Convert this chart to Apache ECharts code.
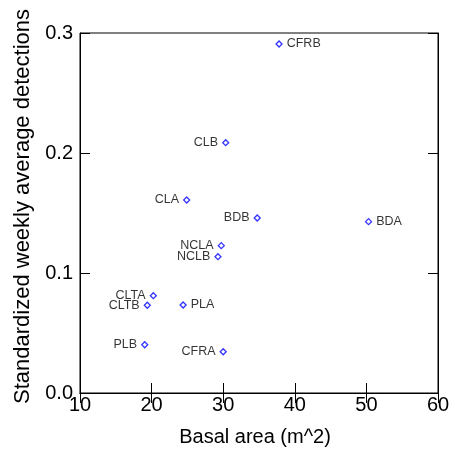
<!DOCTYPE html>
<html><head><meta charset="utf-8">
<script src="https://cdn.jsdelivr.net/npm/echarts@6/dist/echarts.min.js"></script>
<style>html,body{margin:0;padding:0;background:#fff}#c{width:462px;height:453px}</style>
</head><body><div id="c"></div>
<script>
const names = ['CFRB','CLB','CLA','BDB','BDA','NCLA','NCLB','CLTA','CLTB','PLA','PLB','CFRA'];
const basalArea = [37.8,30.35,24.9,34.75,50.3,29.73,29.27,20.24,19.4,24.4,19.04,30.0];
const detections = [0.2908,0.2086,0.1608,0.1458,0.1428,0.1228,0.1136,0.0811,0.0731,0.0733,0.0402,0.0344];
const labelSide = ['right','left','left','left','right','left','left','left','left','right','left','left'];
const xTicks = [10,20,30,40,50,60];
const yTicks = [0.0,0.1,0.2,0.3];

const font = 'Liberation Sans, Arial, sans-serif';
const chart = echarts.init(document.getElementById('c'), null, {renderer:'canvas'});
const data = names.map((n,i)=>({
  name:n, value:[basalArea[i], detections[i]],
  label:{position:labelSide[i]}
}));
const tick = {show:true, inside:true, length:10, lineStyle:{color:'#000', width:1}};
chart.setOption({
  animation:false,
  grid:{left:80, right:24, top:33, bottom:60, show:true, borderColor:'#000', borderWidth:1, backgroundColor:'transparent'},
  xAxis:[{
    type:'value', min:xTicks[0], max:xTicks[xTicks.length-1], interval:10,
    name:'Basal area (m^2)', nameLocation:'middle', nameGap:34,
    nameTextStyle:{fontFamily:font, fontSize:20, color:'#000', padding:[0,8,0,0]},
    axisLine:{show:true, lineStyle:{color:'#000'}},
    axisTick:tick, splitLine:{show:false},
    axisLabel:{fontFamily:font, fontSize:20, color:'#000', margin:2}
  },{
    type:'value', position:'top', min:10, max:60, interval:10,
    axisLine:{show:true, lineStyle:{color:'#000'}}, axisTick:tick, axisLabel:{show:false}, splitLine:{show:false}
  }],
  yAxis:[{
    type:'value', min:yTicks[0], max:yTicks[yTicks.length-1], interval:0.1,
    name:'Standardized weekly average detections', nameLocation:'middle', nameGap:46,
    nameTextStyle:{fontFamily:font, fontSize:22, color:'#000', padding:[0,0,0,13]},
    axisLine:{show:true, lineStyle:{color:'#000'}},
    axisTick:tick, splitLine:{show:false},
    axisLabel:{fontFamily:font, fontSize:20, color:'#000', margin:7, formatter:v=>v.toFixed(1)}
  },{
    type:'value', position:'right', min:0, max:0.3, interval:0.1,
    axisLine:{show:true, lineStyle:{color:'#000'}}, axisTick:tick, axisLabel:{show:false}, splitLine:{show:false}
  }],
  series:[{
    type:'scatter', data:data, symbol:'diamond', symbolSize:6,
    itemStyle:{color:'#fff', borderColor:'#0000ff', borderWidth:1.3},
    label:{show:true, formatter:'{b}', fontFamily:font, fontSize:12.5, color:'#000', distance:4}
  }]
});
</script></body></html>
